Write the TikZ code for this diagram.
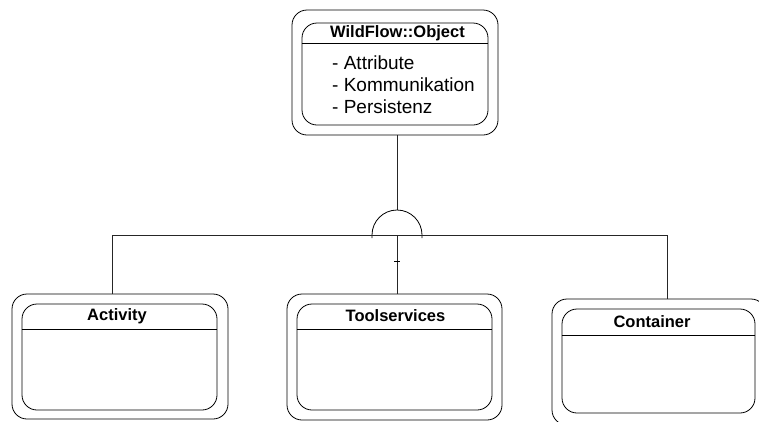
\documentclass[tikz,border=0pt]{standalone}
\usepackage{fontspec}
\setmainfont{Liberation Sans}
\begin{document}
\begin{tikzpicture}[x=1pt,y=-1pt,
  box/.style={draw, rounded corners=15pt, line width=0.8pt, inner sep=0pt},
  sepline/.style={line width=0.8pt},
  conn/.style={line width=0.8pt, draw=black!85},
  ttl/.style={font=\fontsize{16.5}{18}\selectfont\bfseries, inner sep=0pt},
  item/.style={font=\fontsize{19}{21}\selectfont, inner sep=0pt, anchor=west}]
\useasboundingbox (0,0) rectangle (759,421);
\clip (0,0) rectangle (759,421);
% WildFlow::Object
\node[box, minimum width=206pt, minimum height=125pt] (objO) at (395,72.5) {};
\node[box, minimum width=186pt, minimum height=102pt] (objI) at (395,74) {};
\draw[sepline] (objI.west |- 0,43) -- (objI.east |- 0,43);
\node[ttl] (objT) at (397.5,33) {WildFlow::Object};
\node[item] (a1) at (332,63) {- Attribute};
\node[item] (a2) at (332,85) {- Kommunikation};
\node[item] (a3) at (332,107) {- Persistenz};
% Activity
\node[box, minimum width=216pt, minimum height=125pt] (actO) at (120,356.5) {};
\node[box, minimum width=195pt, minimum height=106pt] (actI) at (119.5,357) {};
\draw[sepline] (actI.west |- 0,329) -- (actI.east |- 0,329);
\node[ttl] (actT) at (117,316) {Activity};
% Toolservices
\node[box, minimum width=215pt, minimum height=126pt] (toolO) at (394.5,357) {};
\node[box, minimum width=195pt, minimum height=106pt] (toolI) at (394.5,357) {};
\draw[sepline] (toolI.west |- 0,329) -- (toolI.east |- 0,329);
\node[ttl] (toolT) at (395.5,316) {Toolservices};
% Container
\node[box, minimum width=214pt, minimum height=126pt] (conO) at (659,362) {};
\node[box, minimum width=193pt, minimum height=104pt] (conI) at (658.5,361) {};
\draw[sepline] (conI.west |- 0,335) -- (conI.east |- 0,335);
\node[ttl] (conT) at (652,322) {Container};
% inheritance connectors
\coordinate (inh) at (397,235);
\coordinate (arcTop) at (397,210);
\coordinate (hl) at (112,235);
\coordinate (hr) at (667,235);
\draw[conn] (objO.south -| arcTop) -- (arcTop);
\draw[line width=0.8pt] (372,238) -- (372,235) arc[start angle=180, end angle=360, radius=25] -- (422,238);
\draw[conn] (hl) -- (hr);
\draw[conn] (hl) -- (hl |- actO.north);
\draw[conn] (inh) -- (inh |- toolO.north);
\draw[conn] (hr) -- (hr |- conO.north);
\draw[line width=0.5pt] (394,261) -- (400,261);
\end{tikzpicture}
\end{document}
